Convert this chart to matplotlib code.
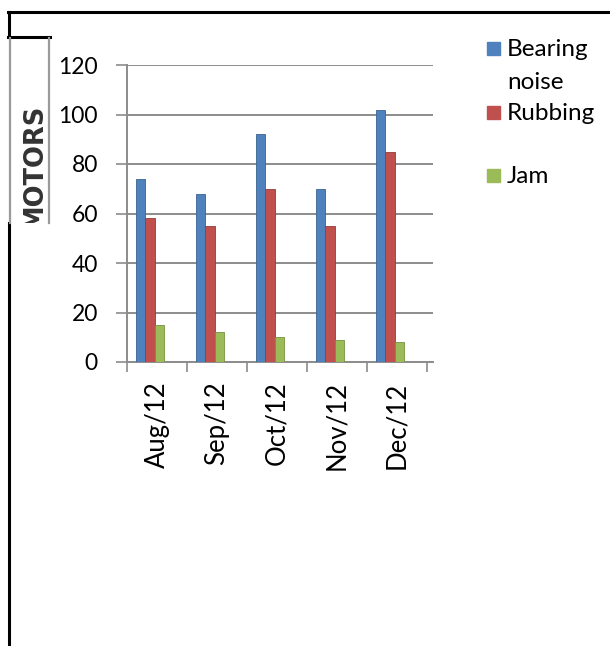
import numpy as np
import matplotlib
matplotlib.use("Agg")
import matplotlib.pyplot as plt
from matplotlib.lines import Line2D
from matplotlib.patches import Rectangle
from matplotlib.transforms import Bbox

# data
months = ["Aug/12", "Sep/12", "Oct/12", "Nov/12", "Dec/12"]
bearing_noise = [74, 68, 92, 70, 102]
rubbing = [58, 55, 70, 55, 85]
jam = [15, 12, 10, 9, 8]
series_names = ["Bearing\nnoise", "Rubbing", "Jam"]
series_colors = ["#4F81BD", "#C0504D", "#9BBB59"]
series_edges = ["#3A6491", "#963B39", "#76923F"]
yticks = [0, 20, 40, 60, 80, 100, 120]

W, H = 610, 646
plt.rcParams["font.family"] = ["Lato", "DejaVu Sans"]

fig = plt.figure(figsize=(W / 100, H / 100), dpi=100)
fig.patch.set_facecolor("white")


def fx(x):
    return x / W


def fy(y):
    return 1 - y / H


# plot area: y axis at x=127px, gridlines to 433px, 0 at 362px, 120 at 65px
ax = fig.add_axes([fx(127), fy(362), fx(433) - fx(127), fy(65) - fy(362)])

x = np.arange(len(months))
w = 0.158
left = -0.383
for k, vals in enumerate([bearing_noise, rubbing, jam]):
    ax.bar(x + (k - 1) * w, vals, width=w, color=series_colors[k],
           edgecolor=series_edges[k], linewidth=0.6, zorder=3)

ax.set_xlim(left, left + 5.1)
ax.set_ylim(0, 120)

ax.set_yticks(yticks)
ax.set_yticklabels([str(v) for v in yticks], fontsize=16.5)
ax.yaxis.grid(True, color="#8c8c8c", linewidth=1.4, zorder=0)

bounds = left + np.arange(len(months) + 1)
ax.set_xticks(bounds)
ax.set_xticklabels([""] * len(bounds))
ax.set_xticks(x + left + 0.5, minor=True)
ax.set_xticklabels(months, minor=True, rotation=90, fontsize=18.5)
ax.tick_params(axis="x", which="major", length=7, width=1.2, color="#8c8c8c")
ax.tick_params(axis="x", which="minor", length=0, pad=14)
ax.tick_params(axis="y", length=8, width=1.2, color="#8c8c8c", pad=13)

for s in ["top", "right"]:
    ax.spines[s].set_visible(False)
for s in ["left", "bottom"]:
    ax.spines[s].set_color("#8c8c8c")
    ax.spines[s].set_linewidth(1.4)

# legend drawn by hand to mimic the spreadsheet layout
leg_y = [48.7, 112, 175.7]
for name, col, yc in zip(series_names, series_colors, leg_y):
    fig.patches.append(Rectangle((fx(487), fy(yc + 6.5)), fx(13), 13 / H,
                                 transform=fig.transFigure, color=col))
    for i, line in enumerate(name.split("\n")):
        fig.text(fx(507), fy(yc + 7.5 + 33 * i), line, fontsize=17.5,
                 va="baseline", ha="left")

# outer frame
black = dict(color="black", linewidth=2.2, transform=fig.transFigure)
fig.add_artist(Line2D([fx(8), fx(610)], [fy(12), fy(12)], **black))
fig.add_artist(Line2D([fx(9), fx(9)], [fy(12), fy(37)], **black))
fig.add_artist(Line2D([fx(9), fx(9)], [fy(223), fy(646)], **black))
fig.add_artist(Line2D([fx(8), fx(50)], [fy(37), fy(37)], **black))

# boxed axis title, clipped like the original
grey = dict(color="#9a9a9a", linewidth=1.6, transform=fig.transFigure)
fig.add_artist(Line2D([fx(9.5), fx(9.5)], [fy(38), fy(223)], **grey))
fig.add_artist(Line2D([fx(49), fx(49)], [fy(38), fy(223)], **grey))
t = fig.text(fx(34.5), fy(166), "MOTORS", rotation=90, ha="center",
             va="center", fontsize=18.5, fontweight="bold", color="#333333",
             family="DejaVu Sans")
t.set_clip_box(Bbox.from_extents(10, H - 223, 48, H - 38))
t.set_clip_on(True)

fig.savefig("out.png", dpi=100)
